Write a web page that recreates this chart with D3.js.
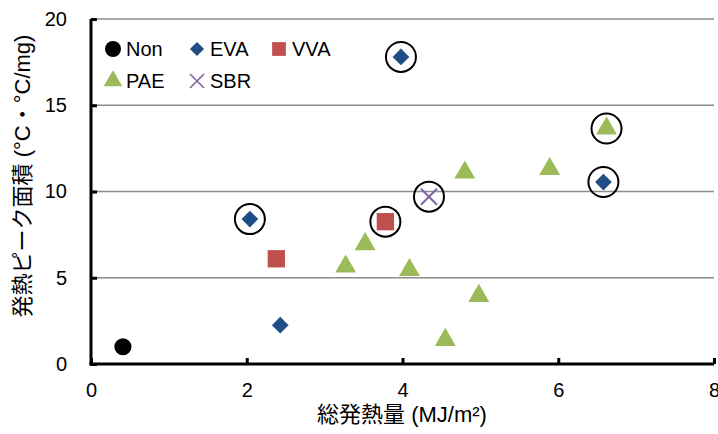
<!DOCTYPE html>
<html><head><meta charset="utf-8">
<script src="https://cdn.jsdelivr.net/npm/d3@7"></script>
<style>
body{margin:0;background:#fff;}
text{font-family:"Liberation Sans","Noto Sans CJK JP",sans-serif;fill:#000;}
</style></head><body>
<svg id="chart" width="718" height="434"></svg>
<script>
// ---- data ----
const xTicks = [0, 2, 4, 6, 8];
const yTicks = [0, 5, 10, 15, 20];
const nonPts = [[0.41, 1.0]];
const evaPts = [[2.04, 8.4], [2.43, 2.25], [3.98, 17.8], [6.58, 10.55]];
const vvaPts = [[2.38, 6.1], [3.78, 8.25]];
const paePts = [[3.27, 5.65], [3.52, 6.95], [4.09, 5.45], [4.55, 1.4], [4.98, 3.95], [4.80, 11.1], [5.89, 11.3], [6.62, 13.65]];
const sbrPts = [[4.34, 9.7]];
const circled = [[2.04, 8.4], [3.98, 17.8], [6.58, 10.55], [3.78, 8.25], [4.34, 9.7], [6.62, 13.65]];
const xLabel = "総発熱量 (MJ/m²)";
const yLabel = "発熱ピーク面積 (°C・°C/mg)";

const svg = d3.select("#chart");
const x = d3.scaleLinear().domain([0, 8]).range([91, 714]);
const y = d3.scaleLinear().domain([0, 20]).range([364, 19]);

// gridlines
svg.append("g").selectAll("line").data(yTicks.filter(d => d > 0)).join("line")
  .attr("x1", x(0)).attr("x2", x(8)).attr("y1", d => y(d)).attr("y2", d => y(d))
  .attr("stroke", "#8c8c8c").attr("stroke-width", 1.3);

// axes
const xAxis = svg.append("g").attr("transform", `translate(0,${y(0)})`)
  .call(d3.axisBottom(x).tickValues(xTicks).tickSizeInner(-6).tickSizeOuter(0).tickPadding(26));
const yAxis = svg.append("g").attr("transform", `translate(${x(0)},0)`)
  .call(d3.axisLeft(y).tickValues(yTicks).tickSizeInner(-6).tickSizeOuter(0).tickPadding(24));
[xAxis, yAxis].forEach(a => {
  a.select(".domain").attr("stroke", "#000").attr("stroke-width", 3);
  a.selectAll(".tick line").attr("stroke", "#000").attr("stroke-width", 3);
  a.selectAll(".tick text").attr("font-size", 20).attr("font-family", "Liberation Sans").attr("fill", "#000");
});
xAxis.selectAll(".tick text").attr("dy", "0.35em");
xAxis.select(".domain").attr("d", `M${x(0)-1.5},0H${x(8)}`);
yAxis.select(".domain").attr("d", `M0,${y(0)+1.5}V${y(20)}`);

// markers
const sym = (type, size) => d3.symbol().type(type).size(size)();
const g = svg.append("g");
function drawPts(data, type, size, fill, rot) {
  g.append("g").selectAll("path").data(data).join("path")
    .attr("d", sym(type, size))
    .attr("transform", d => `translate(${x(d[0])},${y(d[1])})${rot ? " rotate(" + rot + ")" : ""}`)
    .attr("fill", fill);
}
drawPts(nonPts, d3.symbolCircle, 230, "#000");
drawPts(evaPts, d3.symbolSquare, 140, "#1f4e87", 45);
drawPts(vvaPts, d3.symbolSquare, 300, "#c0504d");
drawPts(paePts, d3.symbolTriangle, 190, "#9bbb59");
g.append("g").selectAll("path").data(sbrPts).join("path")
  .attr("d", d => { const cx = x(d[0]), cy = y(d[1]), r = 8; return `M${cx-r},${cy-r}L${cx+r},${cy+r}M${cx-r},${cy+r}L${cx+r},${cy-r}`; })
  .attr("stroke", "#8064a2").attr("stroke-width", 2).attr("fill", "none");

// circles
g.append("g").selectAll("circle").data(circled).join("circle")
  .attr("cx", d => x(d[0])).attr("cy", d => y(d[1])).attr("r", 15)
  .attr("fill", "none").attr("stroke", "#000").attr("stroke-width", 2);

// legend
const legend = [
  {name: "Non", type: d3.symbolCircle, size: 200, fill: "#000", lx: 113, ly: 49},
  {name: "EVA", type: d3.symbolSquare, size: 100, fill: "#1f4e87", rot: 45, lx: 197, ly: 49},
  {name: "VVA", type: d3.symbolSquare, size: 190, fill: "#c0504d", lx: 279, ly: 49},
  {name: "PAE", type: d3.symbolTriangle, size: 150, fill: "#9bbb59", lx: 113, ly: 81},
  {name: "SBR", type: "x", fill: "#8064a2", lx: 197, ly: 81}
];
const lg = svg.append("g");
legend.forEach(l => {
  if (l.type === "x") {
    const r = 7;
    lg.append("path").attr("d", `M${l.lx-r},${l.ly-r}L${l.lx+r},${l.ly+r}M${l.lx-r},${l.ly+r}L${l.lx+r},${l.ly-r}`)
      .attr("stroke", l.fill).attr("stroke-width", 1.6).attr("fill", "none");
  } else {
    lg.append("path").attr("d", sym(l.type, l.size))
      .attr("transform", `translate(${l.lx},${l.ly})${l.rot ? " rotate(" + l.rot + ")" : ""}`)
      .attr("fill", l.fill);
  }
  lg.append("text").attr("x", l.lx + 13).attr("y", l.ly).attr("dy", "0.35em")
    .attr("font-size", 20).text(l.name);
});

// axis labels
svg.append("text").attr("x", 402).attr("y", 422).attr("text-anchor", "middle")
  .attr("font-size", 22).text(xLabel);
svg.append("text").attr("transform", "translate(30,176) rotate(-90)").attr("text-anchor", "middle")
  .attr("font-size", 22).text(yLabel);
</script>
</body></html>
